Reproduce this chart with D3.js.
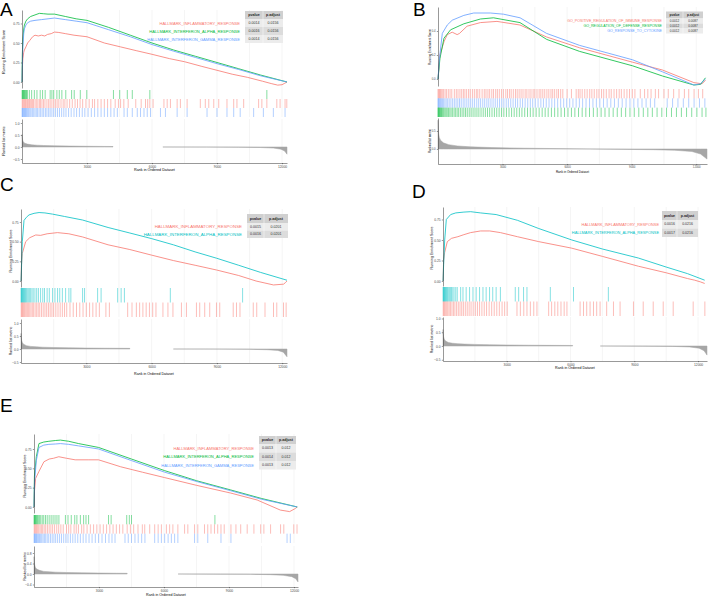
<!DOCTYPE html>
<html>
<head>
<meta charset="utf-8">
<script src="https://cdn.jsdelivr.net/npm/d3@7"></script>
<style>
  body { margin: 0; background: #fff; }
  svg { display: block; font-family: "Liberation Sans", Arial, Helvetica, sans-serif; }
</style>
</head>
<body>
<svg id="chart" width="708" height="597"></svg>
<script>
// ---- colours ----
const RED = "#F8766D", GREEN = "#00BA38", BLUE = "#619CFF", CYAN = "#00BFC4";

// ---- labels ----
const xTicks = [3000, 6000, 9000, 12000];
const hallmarkNames = ["HALLMARK_INFLAMMATORY_RESPONSE", "HALLMARK_INTERFERON_ALPHA_RESPONSE", "HALLMARK_INTERFERON_GAMMA_RESPONSE"];
const goNames = ["GO_POSITIVE_REGULATION_OF_IMMUNE_RESPONSE", "GO_REGULATION_OF_DEFENSE_RESPONSE", "GO_RESPONSE_TO_CYTOKINE"];
const tableHeader = ["pvalue", "p.adjust"];

// ---- p-values ----
const statsA = [["0.0014", "0.0156"], ["0.0016", "0.0156"], ["0.0014", "0.0156"]];
const statsB = [["0.0012", "0.0087"], ["0.0012", "0.0087"], ["0.0012", "0.0087"]];
const statsC = [["0.0015", "0.0201"], ["0.0016", "0.0201"]];
const statsD = [["0.0016", "0.0216"], ["0.0017", "0.0216"]];
const statsE = [["0.0013", "0.012"], ["0.0014", "0.012"], ["0.0013", "0.012"]];

// ---- running enrichment score (rank, ES) ----
const esA_inflam = [[0,0],[15,0.18],[40,0.3],[80,0.38],[110,0.41],[180,0.45],[260,0.5],[350,0.53],[490,0.58],[600,0.6],[750,0.59],[900,0.6],[1050,0.59],[1180,0.61],[1350,0.62],[1500,0.64],[1700,0.635],[2000,0.62],[2400,0.6],[3000,0.58],[3800,0.5],[4550,0.45],[5300,0.4],[6000,0.355],[6800,0.3],[7500,0.26],[8300,0.2],[9000,0.15],[9700,0.1],[10400,0.06],[11100,0.01],[11500,-0.02],[11800,-0.04],[12000,-0.035],[12100,-0.02],[12230,0]];
const esA_alpha = [[0,0],[15,0.35],[40,0.55],[80,0.68],[110,0.73],[180,0.78],[260,0.81],[400,0.84],[600,0.86],[800,0.88],[1000,0.875],[1200,0.87],[1500,0.87],[2000,0.84],[2500,0.81],[3000,0.79],[4000,0.7],[5000,0.6],[6000,0.5],[7000,0.41],[8000,0.33],[9000,0.25],[10000,0.17],[11000,0.09],[12230,0]];
const esA_gamma = [[0,0],[15,0.2],[40,0.45],[80,0.62],[110,0.68],[180,0.73],[260,0.76],[400,0.78],[600,0.79],[900,0.8],[1200,0.81],[1500,0.82],[2000,0.8],[2500,0.78],[3000,0.76],[4000,0.67],[5000,0.58],[6000,0.48],[7000,0.395],[8000,0.315],[9000,0.235],[10000,0.16],[11000,0.08],[12230,0]];

const esB_immune = [[0,0],[90,0.2],[277,0.31],[431,0.37],[661,0.39],[890,0.37],[1000,0.38],[1350,0.44],[1970,0.47],[2740,0.48],[3810,0.45],[5050,0.35],[6580,0.26],[9040,0.14],[10430,0.075],[11890,-0.03],[12270,-0.04],[12430,-0.01]];
const esB_defense = [[0,0],[90,0.17],[277,0.34],[584,0.41],[1200,0.46],[1970,0.5],[2580,0.51],[3810,0.47],[5050,0.33],[6580,0.23],[9040,0.11],[10430,0.025],[11890,-0.05],[12200,-0.045],[12430,0.01]];
const esB_cytokine = [[0,0],[62,0.16],[200,0.38],[431,0.45],[661,0.49],[1200,0.53],[1661,0.55],[2430,0.55],[3045,0.54],[3814,0.51],[5045,0.38],[6583,0.28],[9043,0.16],[10428,0.06],[11889,-0.05],[12196,-0.04],[12430,0]];

const esC_inflam = [[0,0],[20,0.2],[60,0.35],[215,0.5],[400,0.55],[677,0.585],[900,0.58],[1200,0.6],[1676,0.615],[2200,0.6],[2830,0.56],[4000,0.46],[5000,0.4],[5983,0.33],[7000,0.26],[8000,0.2],[8982,0.14],[10000,0.07],[10800,0.0],[11600,-0.05],[12060,-0.04],[12150,-0.02],[12220,0]];
const esC_alpha = [[0,0],[20,0.14],[60,0.5],[138,0.77],[250,0.81],[369,0.84],[600,0.86],[830,0.87],[1100,0.865],[1446,0.85],[2000,0.82],[2830,0.775],[4000,0.68],[5000,0.61],[5983,0.54],[7000,0.46],[8000,0.37],[8982,0.29],[10000,0.2],[11000,0.11],[12220,0.01]];

const esD_inflam = [[0,0],[30,0.25],[80,0.35],[203,0.48],[400,0.52],[700,0.54],[984,0.565],[1300,0.59],[1766,0.61],[2200,0.61],[2700,0.59],[3500,0.54],[4500,0.48],[6060,0.4],[7500,0.3],[9190,0.18],[10500,0.1],[11500,0.03],[11840,0.01],[12100,-0.01],[12310,-0.03]];
const esD_alpha = [[0,0],[30,0.2],[80,0.5],[156,0.75],[360,0.81],[600,0.83],[984,0.84],[1300,0.845],[1766,0.83],[2500,0.81],[3500,0.74],[4500,0.64],[6060,0.5],[7500,0.39],[9190,0.28],[10500,0.17],[11500,0.09],[12310,0.01]];

const esE_inflam = [[0,0],[20,0.2],[76,0.37],[229,0.46],[458,0.585],[700,0.62],[900,0.63],[1145,0.65],[1500,0.63],[1900,0.61],[2500,0.61],[2980,0.61],[4000,0.52],[5000,0.45],[6030,0.38],[7500,0.28],[9080,0.18],[10300,0.09],[11370,-0.04],[11800,-0.06],[12060,-0.02],[12150,0]];
const esE_alpha = [[0,0],[20,0.4],[107,0.65],[229,0.82],[450,0.84],[687,0.85],[1000,0.86],[1220,0.865],[1600,0.85],[2060,0.82],[2980,0.77],[4500,0.62],[6030,0.47],[7500,0.34],[9080,0.22],[10500,0.11],[12150,0]];
const esE_gamma = [[0,0],[20,0.3],[107,0.6],[229,0.77],[450,0.8],[687,0.81],[1000,0.815],[1220,0.82],[1600,0.81],[2060,0.79],[2980,0.75],[4500,0.6],[6030,0.45],[7500,0.33],[9080,0.21],[10500,0.1],[12150,0]];

// ---- gene hit positions (rank) ----
const hitsA_alpha = [5,25,45,70,95,120,150,180,210,250,340,445,570,690,840,950,1070,1300,1380,1460,1610,1720,1840,2020,2290,2410,2690,2990,4220,4510,4860,5090,5900,11300];
const hitsA_inflam = [10,40,80,120,160,200,250,290,340,380,430,480,530,600,660,730,800,850,920,990,1060,1150,1230,1300,1380,1460,1540,1620,1700,1800,1900,1980,2080,2200,2320,2450,2560,2680,2800,2950,3100,3250,3350,3500,3650,3800,3950,4100,4300,4450,4550,4700,4900,5250,5500,5700,5800,5900,6050,6550,6700,6850,7160,7310,7620,8230,8460,8620,8850,9080,9460,9770,9920,10230,10920,11070,11300,11760,11910,12140,12220];
const hitsA_gamma = [5,25,50,80,110,140,170,200,240,280,320,370,420,480,540,600,660,720,790,860,930,1000,1080,1150,1230,1300,1380,1460,1550,1640,1730,1830,1930,2030,2150,2270,2400,2520,2650,2780,2900,3050,3200,3350,3500,3650,3800,3950,4100,4250,4400,4710,4860,5090,5320,5470,5630,5780,5930,6390,6620,7160,7620,8540,9000,9460,9770,10070,10690,11140,11600,12140];

const hitsB_immune = [0,30,70,110,150,200,260,330,400,480,560,640,760,850,930,1020,1100,1180,1250,1330,1420,1500,1600,1690,1780,1850,1940,2050,2150,2230,2320,2400,2500,2580,2680,2760,2850,2950,3040,3150,3230,3320,3400,3500,3600,3680,3770,3860,3950,4050,4130,4230,4320,4420,4500,4600,4700,4780,4870,4960,5060,5150,5250,5330,5420,5520,5600,5700,5800,6000,6200,6420,6520,6600,6700,6820,6930,7050,7150,7260,7380,7480,7600,7700,7820,7950,8050,8180,8300,8420,8520,8650,8780,8900,9030,9150,9400,9600,9750,9900,10100,10250,10500,10700,10950,11200,11450,11650,11900,12100,12300];
const hitsB_cytokine = [0,20,50,80,120,160,210,260,320,380,450,520,600,680,760,840,920,1000,1080,1170,1250,1340,1430,1520,1610,1700,1800,1890,1980,2080,2170,2270,2360,2460,2560,2660,2760,2860,2960,3060,3170,3270,3380,3490,3600,3700,3820,3930,4050,4170,4290,4400,4520,4650,4780,4900,5030,5160,5290,5420,5560,5700,5840,5980,6120,6270,6420,6570,6720,6880,7040,7200,7360,7520,7690,7860,8030,8200,8380,8560,8740,8920,9100,9290,9480,9670,9870,10070,10650,10900,11150,11400,11650,11900,12150,12400];
const hitsB_defense = [0,15,35,55,80,105,135,165,200,240,280,330,380,430,490,550,610,680,750,820,890,960,1040,1120,1200,1280,1360,1450,1540,1630,1720,1810,1900,2000,2100,2200,2300,2400,2510,2620,2730,2840,2950,3060,3180,3300,3420,3540,3660,3780,3900,4030,4160,4290,4420,4560,4700,4840,4980,5120,5270,5420,5570,5720,5880,6040,6200,6360,6530,6700,6870,7040,7220,7400,7580,7760,7950,8140,8330,8520,8720,8920,9120,9330,9540,9750,9960,10180,10400,10620,10850,11080,11310,11550,11790,12030,12270,12450];

const hitsC_alpha = [5,20,40,60,85,110,140,170,200,240,280,330,380,430,500,560,640,720,800,900,1000,1080,1200,1300,1450,1560,1680,1780,1900,2050,2200,2290,2830,2920,3520,3680,4440,4600,4750,6860,10180];
const hitsC_inflam = [10,35,70,110,150,190,240,290,340,400,460,520,580,650,720,790,860,940,1020,1100,1180,1260,1340,1420,1500,1600,1700,1800,1900,2000,2100,2250,2400,2550,2700,2850,3000,3150,3300,3450,3600,3900,4060,4900,5100,5300,5450,5600,5750,5900,6050,6200,6520,6750,6980,7370,7600,8060,8210,8440,8670,8980,9130,9750,9900,10060,10670,10830,11210,11600,11750,12060,12180];

const hitsD_alpha = [5,20,40,60,85,110,140,170,210,250,300,350,400,460,520,600,670,830,940,1090,1250,1410,1560,1720,1880,2030,2190,2340,2500,2700,3400,3560,3790,3950,5050,6140,7780];
const hitsD_inflam = [10,40,80,130,180,230,290,350,420,490,560,640,720,800,880,960,1050,1140,1230,1320,1420,1520,1620,1720,1830,1940,2050,2170,2290,2410,2530,2650,2780,2900,3020,3480,3640,3800,3950,4110,4270,4420,4970,5110,5260,5400,5550,5700,5830,6450,6610,6760,6920,7080,7230,7390,7700,8020,8330,8960,9420,9890,10360,10830,11770,12320];

const hitsE_alpha = [5,20,40,65,90,120,160,200,250,310,380,450,530,610,700,790,880,970,1060,1150,1450,1570,1720,1880,1980,2140,2290,2400,2520,3440,3560,4280,4400,4500,8350];
const hitsE_inflam = [10,40,80,120,170,220,280,340,400,470,540,620,700,780,860,950,1050,1140,1240,1350,1500,1600,1700,1850,1950,2050,2200,2300,2450,2600,2750,2900,3050,3200,3350,3500,3650,3800,3950,4100,4300,4450,4600,4800,5000,5110,5340,5570,5730,5880,6110,6260,6410,6640,6950,7100,7410,7560,7870,8020,8170,8330,8480,8630,8780,9090,9320,9540,9840,10150,10460,10610,10920,11380,11530,11990,12140];
const hitsE_gamma = [5,25,50,80,110,140,180,220,260,310,360,420,480,540,610,680,760,840,920,1000,1090,1180,1270,1370,1470,1570,1680,1790,1900,2020,2140,2270,2400,2540,2680,2830,2980,3140,3300,3460,3600,3740,4200,4350,4500,4660,4810,4970,5120,5570,5730,5880,6030,6190,6340,6490,6640,7410,7560,8020,8630,9090,11680,11830];

// ---- ranked list metric (rank, value); null = gap ----
const metricA = [[0,0.52],[10,0.4],[30,0.29],[60,0.22],[120,0.16],[250,0.12],[450,0.09],[700,0.075],[1000,0.062],[1500,0.05],[2200,0.04],[3000,0.03],[3800,0.024],[4200,0.02],null,[6500,0.0],[8500,-0.004],[10000,-0.01],[11000,-0.022],[11600,-0.045],[11950,-0.09],[12120,-0.17],[12230,-0.3]];
const metricB = [[0,0.8],[10,0.58],[30,0.42],[60,0.32],[120,0.24],[250,0.17],[500,0.12],[900,0.085],[1500,0.06],[2500,0.04],[4000,0.022],[6000,0.008],[8000,-0.006],[10000,-0.02],[11000,-0.035],[11800,-0.07],[12200,-0.14],[12500,-0.28]];
const metricC = [[0,0.6],[10,0.45],[30,0.33],[60,0.25],[120,0.18],[250,0.13],[450,0.1],[700,0.085],[1000,0.07],[1500,0.058],[2200,0.046],[3000,0.037],[4000,0.03],[5000,0.025],null,[7000,0.0],[9000,-0.004],[10500,-0.012],[11300,-0.028],[11800,-0.055],[12050,-0.12],[12220,-0.3]];
const metricD = [[0,0.6],[10,0.45],[30,0.33],[60,0.25],[120,0.18],[250,0.13],[450,0.1],[700,0.085],[1000,0.07],[1500,0.058],[2200,0.046],[3000,0.037],[4000,0.03],[5000,0.024],[6100,0.02],null,[7400,0.0],[9400,-0.005],[10800,-0.014],[11600,-0.035],[12050,-0.08],[12280,-0.17],[12420,-0.33]];
const metricE = [[0,0.66],[10,0.48],[30,0.35],[60,0.26],[120,0.19],[250,0.14],[450,0.1],[700,0.085],[1000,0.07],[1500,0.058],[2200,0.046],[3000,0.037],[3800,0.03],[4300,0.026],null,[6650,0.0],[8600,-0.005],[10000,-0.012],[10900,-0.025],[11500,-0.05],[11900,-0.1],[12080,-0.18],[12185,-0.3]];

// ---- panel layout ----
const panels = [
  { letter: "A", lx: 0, ly: 16, left: 22, right: 287, xMax: 12230,
    esTop: 10, esBottom: 88, esDomain: [-0.077, 0.923], esTicks: [0, 0.25, 0.5, 0.75], esFmt: ".2f",
    rugTop: 90, rugH: 9, mTop: 119, mBottom: 163, mDomain: [-0.667, 1.167], mTicks: [-0.5, 0, 0.5, 1], mFmt: ".1f",
    yTitleX: 5, esTitleY: 52, xTitleY: 170.5, fs: 3.3, titleFs: 3.7,
    lines: [{ es: esA_inflam, color: RED }, { es: esA_alpha, color: GREEN }, { es: esA_gamma, color: BLUE }],
    rugs: [{ hits: hitsA_alpha, color: GREEN }, { hits: hitsA_inflam, color: RED }, { hits: hitsA_gamma, color: BLUE }],
    metric: metricA,
    legend: { names: hallmarkNames, colors: [RED, GREEN, BLUE], stats: statsA, x: 240, fs: 4.05,
              tx: 245, ty: 11, w: [18, 20], hh: 8, rh: 8, tfs: 3.6 } },
  { letter: "B", lx: 413, ly: 16, left: 438, right: 707, xMax: 12500,
    esTop: 7, esBottom: 86, esDomain: [-0.0583, 0.6], esTicks: [0, 0.2, 0.4], esFmt: ".1f",
    rugTop: 89, rugH: 9.33, mTop: 118, mBottom: 164, mDomain: [-0.417, 0.861], mTicks: [0, 0.5], mFmt: ".1f",
    yTitleX: 431, esTitleY: 47, xTitleY: 172.5, fs: 2.8, titleFs: 3.0,
    lines: [{ es: esB_immune, color: RED }, { es: esB_defense, color: GREEN }, { es: esB_cytokine, color: BLUE }],
    rugs: [{ hits: hitsB_immune, color: RED }, { hits: hitsB_cytokine, color: BLUE }, { hits: hitsB_defense, color: GREEN }],
    metric: metricB,
    legend: { names: goNames, colors: [RED, GREEN, BLUE], stats: statsB, x: 662, fs: 3.6,
              tx: 666, ty: 11.5, w: [17, 20], hh: 7, rh: 5, tfs: 3.1 } },
  { letter: "C", lx: 0, ly: 191, left: 21, right: 287, xMax: 12220,
    esTop: 209, esBottom: 287, esDomain: [-0.076, 0.915], esTicks: [0, 0.25, 0.5, 0.75], esFmt: ".2f",
    rugTop: 288, rugH: 14.5, mTop: 319, mBottom: 363, mDomain: [-0.538, 1.154], mTicks: [-0.5, 0, 0.5, 1], mFmt: ".1f",
    yTitleX: 12, esTitleY: 251, xTitleY: 374.5, fs: 3.3, titleFs: 3.6,
    lines: [{ es: esC_inflam, color: RED }, { es: esC_alpha, color: CYAN }],
    rugs: [{ hits: hitsC_alpha, color: CYAN }, { hits: hitsC_inflam, color: RED }],
    metric: metricC,
    legend: { names: hallmarkNames.slice(0, 2), colors: [RED, CYAN], stats: statsC, x: 242, fs: 4.4,
              tx: 247, ty: 214, w: [17, 24], hh: 9, rh: 7.5, tfs: 3.6 } },
  { letter: "D", lx: 412, ly: 198, left: 443, right: 707, xMax: 12420,
    esTop: 207, esBottom: 286, esDomain: [-0.061, 0.902], esTicks: [0, 0.25, 0.5, 0.75], esFmt: ".2f",
    rugTop: 287, rugH: 14.5, mTop: 317, mBottom: 361, mDomain: [-0.545, 1.055], mTicks: [-0.5, 0, 0.5, 1], mFmt: ".1f",
    yTitleX: 433, esTitleY: 248, xTitleY: 369, fs: 3.3, titleFs: 3.6,
    lines: [{ es: esD_inflam, color: RED }, { es: esD_alpha, color: CYAN }],
    rugs: [{ hits: hitsD_alpha, color: CYAN }, { hits: hitsD_inflam, color: RED }],
    metric: metricD,
    legend: { names: hallmarkNames.slice(0, 2), colors: [RED, CYAN], stats: statsD, x: 659, fs: 3.9,
              tx: 662, ty: 211, w: [15, 21], hh: 9, rh: 8.5, tfs: 3.5 } },
  { letter: "E", lx: 0, ly: 412, left: 34, right: 298, xMax: 12185,
    esTop: 434, esBottom: 513, esDomain: [-0.078, 0.944], esTicks: [0, 0.25, 0.5, 0.75], esFmt: ".2f",
    rugTop: 515, rugH: 9.33, mTop: 546, mBottom: 587, mDomain: [-0.495, 1.067], mTicks: [-0.4, 0, 0.4, 0.8], mFmt: ".1f",
    yTitleX: 25.5, esTitleY: 476, xTitleY: 595.5, fs: 3.3, titleFs: 3.6,
    lines: [{ es: esE_inflam, color: RED }, { es: esE_alpha, color: GREEN }, { es: esE_gamma, color: BLUE }],
    rugs: [{ hits: hitsE_alpha, color: GREEN }, { hits: hitsE_inflam, color: RED }, { hits: hitsE_gamma, color: BLUE }],
    metric: metricE,
    legend: { names: hallmarkNames, colors: [RED, GREEN, BLUE], stats: statsE, x: 254, fs: 4.05,
              tx: 259, ty: 436, w: [17, 20], hh: 8, rh: 8.5, tfs: 3.6 } }
];

const svg = d3.select("#chart");

function styleAxis(sel, fs) {
  sel.attr("font-size", null).attr("font-family", null);
  sel.select(".domain").attr("stroke", "#333").attr("stroke-width", 0.5);
  sel.selectAll(".tick line").attr("stroke", "#333").attr("stroke-width", 0.5);
  sel.selectAll(".tick text").attr("fill", "#4d4d4d").style("font-size", fs + "px");
}

function drawPanel(p) {
  const g = svg.append("g");
  const x = d3.scaleLinear().domain([0, p.xMax]).range([p.left, p.right]);
  const yES = d3.scaleLinear().domain(p.esDomain).range([p.esBottom, p.esTop]);
  const yM = d3.scaleLinear().domain(p.mDomain).range([p.mBottom, p.mTop]);
  const rugBottom = p.rugTop + p.rugH * p.rugs.length;

  // vertical grid lines (major + minor)
  const grid = d3.range(1500, p.xMax, 1500);
  [[p.esTop, p.esBottom], [p.esBottom, rugBottom], [p.mTop, p.mBottom]].forEach(([a, b]) => {
    g.append("g").selectAll("line").data(grid).join("line")
      .attr("x1", d => x(d)).attr("x2", d => x(d))
      .attr("y1", a).attr("y2", b)
      .attr("stroke", "#ebebeb").attr("stroke-width", 0.5);
  });

  // running enrichment score
  const line = d3.line().x(d => x(d[0])).y(d => yES(d[1]));
  g.append("g").selectAll("path").data(p.lines).join("path")
    .attr("d", d => line(d.es))
    .attr("fill", "none")
    .attr("stroke", d => d.color)
    .attr("stroke-width", 0.8)
    .attr("stroke-linejoin", "round");

  g.append("g").attr("transform", `translate(${p.left},0)`)
    .call(d3.axisLeft(yES).tickValues(p.esTicks).tickFormat(d3.format(p.esFmt))
      .tickSize(1.2).tickSizeOuter(0).tickPadding(1.2))
    .call(s => styleAxis(s, p.fs));

  // hit rugs
  p.rugs.forEach((r, i) => {
    const y0 = p.rugTop + i * p.rugH;
    g.append("g").selectAll("line").data(r.hits).join("line")
      .attr("x1", d => x(d)).attr("x2", d => x(d))
      .attr("y1", y0).attr("y2", y0 + p.rugH)
      .attr("stroke", r.color)
      .attr("stroke-width", 0.8)
      .attr("stroke-opacity", 0.6);
  });

  // ranked list metric
  const area = d3.area().defined(d => d != null)
    .x(d => x(d[0])).y0(yM(0)).y1(d => yM(d[1]));
  g.append("path").datum(p.metric)
    .attr("d", area)
    .attr("fill", "#a6a6a6")
    .attr("stroke", "#a6a6a6")
    .attr("stroke-width", 0.5);

  g.append("g").attr("transform", `translate(${p.left},0)`)
    .call(d3.axisLeft(yM).tickValues(p.mTicks).tickFormat(d3.format(p.mFmt))
      .tickSize(1.2).tickSizeOuter(0).tickPadding(1.2))
    .call(s => styleAxis(s, p.fs));

  g.append("g").attr("transform", `translate(0,${p.mBottom})`)
    .call(d3.axisBottom(x).tickValues(xTicks).tickFormat(d3.format("d"))
      .tickSize(1.2).tickSizeOuter(0).tickPadding(1))
    .call(s => styleAxis(s, p.fs));

  // axis titles
  g.append("text")
    .attr("transform", `translate(${p.yTitleX},${p.esTitleY}) rotate(-90)`)
    .attr("text-anchor", "middle")
    .style("font-size", p.titleFs + "px")
    .text("Running Enrichment Score");
  g.append("text")
    .attr("transform", `translate(${p.yTitleX},${(p.mTop + p.mBottom) / 2}) rotate(-90)`)
    .attr("text-anchor", "middle")
    .style("font-size", p.titleFs + "px")
    .text("Ranked list metric");
  g.append("text")
    .attr("x", (p.left + p.right) / 2).attr("y", p.xTitleY)
    .attr("text-anchor", "middle")
    .style("font-size", p.titleFs + "px")
    .text("Rank in Ordered Dataset");

  // legend labels + p-value table
  const L = p.legend;
  const tx = [L.tx, L.tx + L.w[0]];
  const tw = L.w[0] + L.w[1];
  const rowsG = g.append("g");
  rowsG.append("rect").attr("x", L.tx).attr("y", L.ty).attr("width", tw).attr("height", L.hh)
    .attr("fill", "#d0d0d0");
  tableHeader.forEach((h, j) => {
    rowsG.append("text").attr("x", tx[j] + L.w[j] / 2).attr("y", L.ty + L.hh / 2)
      .attr("text-anchor", "middle").attr("dominant-baseline", "central")
      .attr("font-weight", "bold").attr("fill", "#222")
      .style("font-size", L.tfs + "px").text(h);
  });
  L.stats.forEach((row, i) => {
    const y0 = L.ty + L.hh + i * L.rh;
    rowsG.append("rect").attr("x", L.tx).attr("y", y0).attr("width", tw).attr("height", L.rh)
      .attr("fill", i % 2 ? "#dcdcdc" : "#ececec");
    row.forEach((v, j) => {
      rowsG.append("text").attr("x", tx[j] + L.w[j] / 2).attr("y", y0 + L.rh / 2)
        .attr("text-anchor", "middle").attr("dominant-baseline", "central")
        .attr("fill", "#333").style("font-size", L.tfs + "px").text(v);
    });
    rowsG.append("text").attr("x", L.x).attr("y", y0 + L.rh / 2)
      .attr("text-anchor", "end").attr("dominant-baseline", "central")
      .attr("fill", L.colors[i]).style("font-size", L.fs + "px").text(L.names[i]);
  });
  rowsG.append("line").attr("x1", tx[1]).attr("x2", tx[1])
    .attr("y1", L.ty).attr("y2", L.ty + L.hh + L.stats.length * L.rh)
    .attr("stroke", "#fff").attr("stroke-width", 0.5);

  // panel letter
  svg.append("text").attr("x", p.lx).attr("y", p.ly)
    .style("font-size", "19px").attr("fill", "#000").text(p.letter);
}

panels.forEach(drawPanel);
</script>
</body>
</html>
